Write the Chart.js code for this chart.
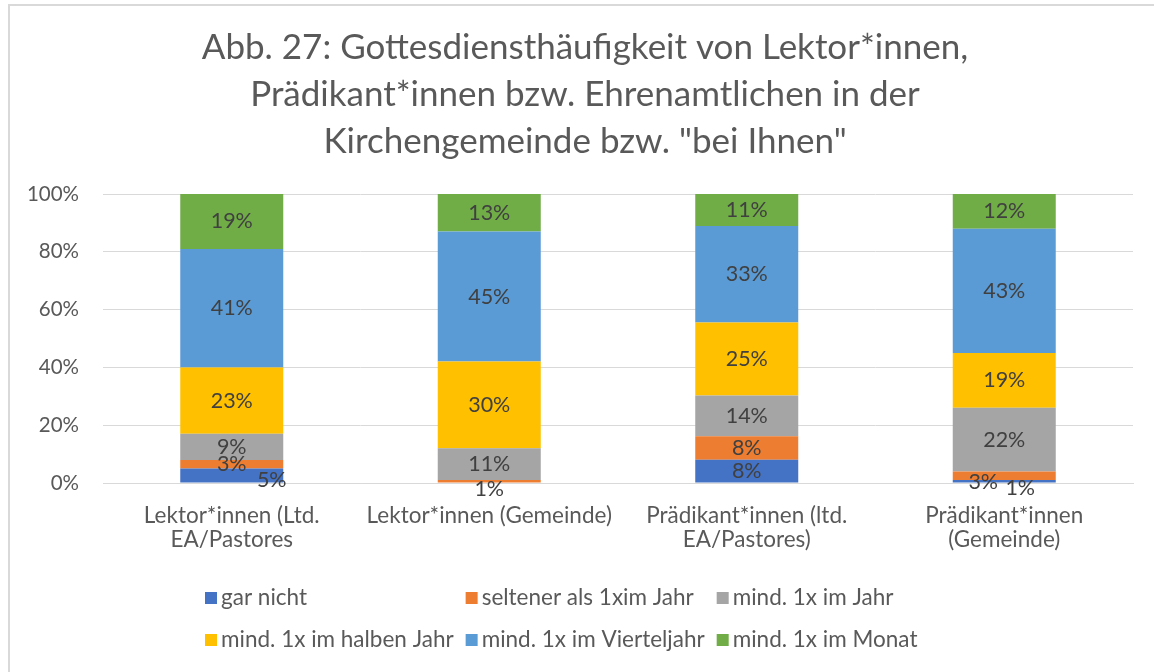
<!DOCTYPE html>
<html>
<head>
<meta charset="utf-8">
<script src="https://cdn.jsdelivr.net/npm/chart.js@4"></script>
<style>
  html, body { margin: 0; padding: 0; background: #fff; }
  #wrap { width: 1154px; height: 672px; position: relative; }
</style>
</head>
<body>
<div id="wrap"><canvas id="chart" width="1154" height="672"></canvas></div>
<script>
// Daten
const categories = [
  ['Lektor*innen (Ltd.', 'EA/Pastores'],
  'Lektor*innen (Gemeinde)',
  ['Prädikant*innen (ltd.', 'EA/Pastores)'],
  ['Prädikant*innen', '(Gemeinde)']
];
const seriesNames = ['gar nicht', 'seltener als 1xim Jahr', 'mind. 1x im Jahr',
  'mind. 1x im halben Jahr', 'mind. 1x im Vierteljahr', 'mind. 1x im Monat'];
const garNicht    = [5, 0, 8, 1];
const seltener    = [3, 1, 8, 3];
const imJahr      = [9, 11, 14, 22];
const halbesJahr  = [23, 30, 25, 19];
const viertelJahr = [41, 45, 33, 43];
const imMonat     = [19, 13, 11, 12];
const yTicks = [0, 20, 40, 60, 80, 100];
const titleLines = ['Abb. 27: Gottesdiensthäufigkeit von Lektor*innen,',
  'Prädikant*innen bzw. Ehrenamtlichen in der',
  'Kirchengemeinde bzw. "bei Ihnen"'];

const colors = ['#4472C4', '#ED7D31', '#A5A5A5', '#FFC000', '#5B9BD5', '#70AD47'];
const FONT = 'Lato, "Liberation Sans", sans-serif';

const rawSeries = [garNicht, seltener, imJahr, halbesJahr, viertelJahr, imMonat];
// 100%-gestapelt: Anteil je Kategorie
const totals = categories.map((_, i) => rawSeries.reduce((s, arr) => s + arr[i], 0));

// verschobene Beschriftungen (wie im Original von Hand versetzt)
const labelShift = {
  '0-0': [40, 5],
  '1-1': [0, 8],
  '0-3': [16, 7],
  '1-3': [-21, 6]
};

const framePlugin = {
  id: 'frame',
  beforeDraw(chart) {
    const ctx = chart.ctx;
    ctx.save();
    ctx.fillStyle = '#fff';
    ctx.fillRect(0, 0, chart.width, chart.height);
    ctx.strokeStyle = '#d9d9d9';
    ctx.lineWidth = 2;
    ctx.strokeRect(9, 5, 1170, 700);
    ctx.restore();
  }
};

const titlePlugin = {
  id: 'titleLines',
  afterDraw(chart) {
    const ctx = chart.ctx;
    ctx.save();
    ctx.font = '35px ' + FONT;
    ctx.fillStyle = '#595959';
    ctx.textAlign = 'center';
    ctx.textBaseline = 'middle';
    titleLines.forEach((t, i) => ctx.fillText(t, 585, 48 + i * 47));
    ctx.restore();
  }
};

const valueLabels = {
  id: 'valueLabels',
  afterDatasetsDraw(chart) {
    const ctx = chart.ctx;
    ctx.save();
    ctx.font = '21.5px ' + FONT;
    ctx.fillStyle = '#404040';
    ctx.textAlign = 'center';
    ctx.textBaseline = 'middle';
    chart.data.datasets.forEach((ds, di) => {
      chart.getDatasetMeta(di).data.forEach((bar, i) => {
        const v = rawSeries[di][i];
        if (!v) return;
        const sh = labelShift[di + '-' + i] || [0, 0];
        const y = (bar.y + bar.base) / 2;
        ctx.fillText(v + '%', bar.x + sh[0], y + sh[1]);
      });
    });
    ctx.restore();
  }
};

const legendPlugin = {
  id: 'gridLegend',
  afterDraw(chart) {
    const ctx = chart.ctx;
    ctx.save();
    ctx.font = '22.5px ' + FONT;
    ctx.textBaseline = 'middle';
    const cols = 3;
    const colW = [];
    for (let c = 0; c < cols; c++) {
      let w = 0;
      for (let r = 0; r < 2; r++) w = Math.max(w, ctx.measureText(seriesNames[r * cols + c]).width);
      colW.push(16 + w + 12);
    }
    const startX = 205;
    seriesNames.forEach((name, i) => {
      const c = i % cols, r = Math.floor(i / cols);
      let x = startX;
      for (let k = 0; k < c; k++) x += colW[k];
      const y = 598 + r * 42;
      ctx.fillStyle = colors[i];
      ctx.fillRect(x, y - 6, 12, 12);
      ctx.fillStyle = '#595959';
      ctx.fillText(name, x + 16, y);
    });
    ctx.restore();
  }
};

new Chart(document.getElementById('chart'), {
  type: 'bar',
  data: {
    labels: categories,
    datasets: rawSeries.map((arr, di) => ({
      label: seriesNames[di],
      data: arr.map((v, i) => v / totals[i] * 100),
      backgroundColor: colors[di],
      borderWidth: 0,
      barPercentage: 0.4,
      categoryPercentage: 1
    }))
  },
  options: {
    responsive: false,
    animation: false,
    layout: { padding: { top: 194, left: 0, right: 21, bottom: 0 } },
    plugins: { legend: { display: false }, title: { display: false }, tooltip: { enabled: false } },
    scales: {
      x: {
        stacked: true,
        grid: { display: false, drawTicks: false },
        border: { display: true, color: '#d9d9d9', width: 1 },
        ticks: { color: '#595959', font: { family: FONT, size: 22.5, lineHeight: '24px' }, padding: 21, maxRotation: 0, autoSkip: false },
        afterFit(scale) { scale.height = 672 - 483; }
      },
      y: {
        stacked: true,
        min: 0, max: 100,
        afterBuildTicks(scale) { scale.ticks = yTicks.map(v => ({ value: v })); },
        grid: { color: '#d9d9d9', lineWidth: 1, drawTicks: false },
        border: { display: false },
        ticks: { color: '#595959', font: { family: FONT, size: 20.5 }, padding: 24, callback: v => v + '%' },
        afterFit(scale) { scale.width = 103; }
      }
    }
  },
  plugins: [framePlugin, titlePlugin, valueLabels, legendPlugin]
});
</script>
</body>
</html>
